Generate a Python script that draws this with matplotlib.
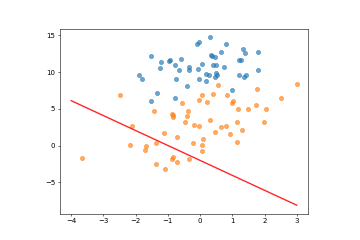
import matplotlib
matplotlib.use("Agg")
import matplotlib.pyplot as plt
import numpy as np

# class 0 (blue) points
blue_x = [-1.54, -1.20, -1.24, -0.98, -0.94, -0.79, -1.91, -1.79, -0.75, -1.34,
          -1.52, -0.77, -0.65, -0.59, 0.30, -0.11, -0.03, 0.81, 0.66, 1.33,
          1.40, 1.81, 0.33, 0.375, 0.46, -0.36, -0.35, 0.06, -0.05, 0.40,
          0.48, 0.75, 1.21, 1.28, 1.81, -0.03, 0.19, 0.27, 0.48, 0.54,
          0.45, 0.17, 1.20, 1.41, 1.375, -0.42, 1.0]
blue_y = [12.14, 11.42, 10.6, 11.55, 11.6, 11.0, 9.55, 9.1, 9.1, 7.1,
          6.05, 6.5, 10.33, 11.78, 14.73, 13.78, 14.05, 13.78, 12.78, 13.19,
          12.65, 12.69, 12.37, 12.24, 12.06, 10.69, 10.33, 11.05, 10.42, 11.0,
          11.0, 10.69, 11.65, 11.65, 10.33, 9.1, 9.74, 9.55, 9.82, 9.55,
          9.33, 8.73, 9.64, 9.64, 9.33, 8.1, 7.6]

# class 1 (orange) points
orange_x = [-2.49, -1.42, -0.875, -0.85, -0.85, -2.13, -1.125, -0.57, 0.55, 3.0,
            1.77, 0.07, 0.385, 0.83, 2.51, 1.03, 1.0, -0.04, 0.22, -0.375,
            -0.41, -0.47, 1.19, 1.5, 1.73, 2.05, 1.97, 0.30, -0.18, -0.04,
            0.66, 0.80, 1.16, 0.47, 0.92, 1.30, -0.71, -0.22, 0.06, 0.10,
            0.07, 1.15, -0.83, -0.885, -0.71, -0.36, -2.19, -1.67, -1.72, -1.37,
            -3.67, -1.37, -1.09]
orange_y = [6.82, 4.69, 4.32, 4.09, 3.87, 2.64, 1.69, 5.73, 8.28, 8.42,
            7.74, 6.82, 7.01, 6.87, 6.5, 6.05, 5.73, 6.14, 5.87, 4.73,
            4.0, 3.27, 4.91, 4.96, 5.46, 4.96, 3.23, 3.5, 2.85, 2.73,
            2.59, 2.69, 3.19, 1.91, 1.6, 2.14, 1.19, 0.37, 0.05, 0.91,
            -0.77, 0.5, -1.54, -1.77, -2.22, -1.77, 0.1, -0.08, -0.59, 0.41,
            -1.68, -2.46, -3.22]

# decision boundary
line_x = [-4, 3]
line_y = [6.1, -8.1]

fig = plt.figure(figsize=(7.2, 4.8), dpi=50)
ax = fig.add_axes([60 / 360, 0.11, 248 / 360, 0.77])

ax.scatter(blue_x, blue_y, color="tab:blue", alpha=0.65)
ax.scatter(orange_x, orange_y, color="tab:orange", alpha=0.65)
ax.plot(line_x, line_y, color="red", linewidth=2, alpha=0.85)

fig.savefig("out.png", dpi=50)
